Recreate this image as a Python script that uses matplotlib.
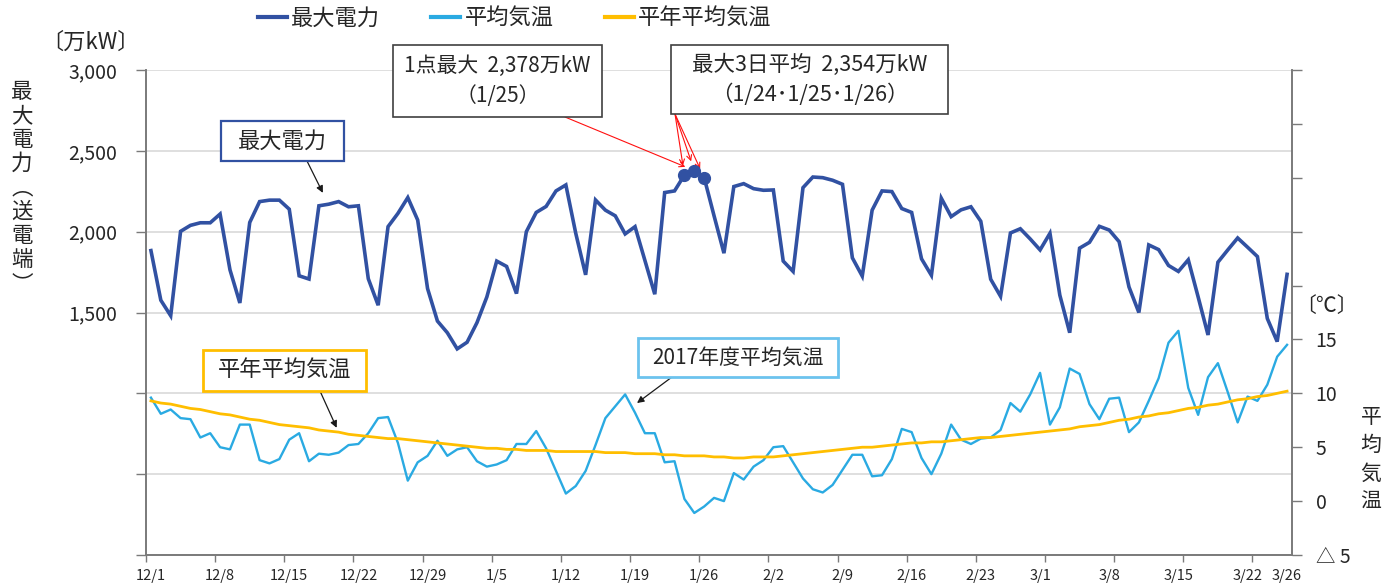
import matplotlib.pyplot as plt
import pandas as pd
from matplotlib.lines import Line2D
from matplotlib.patches import Rectangle

plt.rcParams['font.family'] = ['Noto Sans CJK JP', 'DejaVu Sans']
plt.rcParams['text.color'] = '#262626'

# ---- data ----
dates = pd.date_range('2017-12-01', '2018-03-26', freq='D')
days = [f'{d.month}/{d.day}' for d in dates]

max_power = [1883, 1576, 1480, 2002, 2039, 2055, 2055, 2109, 1764, 1559,
             2057, 2186, 2195, 2195, 2139, 1727, 1707, 2160, 2170, 2186,
             2154, 2160, 1709, 1545, 2031, 2113, 2211, 2072, 1648, 1447,
             1375, 1275, 1316, 1437, 1596, 1818, 1785, 1617, 2000, 2119,
             2156, 2252, 2289, 1990, 1733, 2196, 2133, 2098, 1986, 2031,
             1822, 1613, 2242, 2252, 2350, 2378, 2334, 2098, 1867, 2279,
             2297, 2266, 2256, 2258, 1818, 1754, 2272, 2338, 2334, 2318,
             2293, 1838, 1725, 2133, 2252, 2248, 2143, 2119, 1832, 1730,
             2207, 2093, 2135, 2154, 2064, 1706, 1600, 1992, 2018, 1955,
             1887, 1990, 1607, 1375, 1898, 1934, 2033, 2010, 1938, 1658,
             1500, 1918, 1889, 1791, 1754, 1826, 1596, 1361, 1811, 1887,
             1961, 1904, 1846, 1463, 1320, 1736]

avg_temp = [9.6, 8.1, 8.5, 7.7, 7.6, 5.9, 6.3, 5.0, 4.8, 7.1,
            7.1, 3.8, 3.5, 3.9, 5.7, 6.3, 3.7, 4.4, 4.3, 4.5,
            5.2, 5.3, 6.3, 7.7, 7.8, 5.4, 1.9, 3.6, 4.2, 5.6,
            4.2, 4.8, 5.0, 3.7, 3.2, 3.4, 3.8, 5.3, 5.3, 6.5,
            4.9, 2.8, 0.7, 1.4, 2.8, 5.2, 7.7, 8.8, 9.9, 8.2,
            6.3, 6.3, 3.6, 3.7, 0.2, -1.1, -0.5, 0.3, 0.0, 2.6,
            2.0, 3.2, 3.8, 5.0, 5.1, 3.6, 2.1, 1.1, 0.8, 1.5,
            2.9, 4.3, 4.3, 2.3, 2.4, 3.9, 6.7, 6.4, 4.0, 2.5,
            4.4, 7.1, 5.7, 5.3, 5.8, 5.9, 6.6, 9.1, 8.3, 9.9,
            11.9, 7.1, 8.7, 12.3, 11.8, 9.0, 7.6, 9.5, 9.6, 6.4,
            7.3, 9.3, 11.4, 14.7, 15.8, 10.5, 8.0, 11.5, 12.8, 10.1,
            7.3, 9.7, 9.3, 10.8, 13.4, 14.5]

normal_temp = [9.3, 9.1, 9.0, 8.8, 8.6, 8.5, 8.3, 8.1, 8.0, 7.8,
               7.6, 7.5, 7.3, 7.1, 7.0, 6.9, 6.8, 6.6, 6.5, 6.4,
               6.2, 6.1, 6.0, 5.9, 5.8, 5.8, 5.7, 5.6, 5.5, 5.4,
               5.3, 5.2, 5.1, 5.0, 4.9, 4.9, 4.8, 4.8, 4.7, 4.7,
               4.7, 4.6, 4.6, 4.6, 4.6, 4.6, 4.5, 4.5, 4.5, 4.4,
               4.4, 4.4, 4.3, 4.3, 4.2, 4.2, 4.2, 4.1, 4.1, 4.0,
               4.0, 4.1, 4.1, 4.1, 4.2, 4.3, 4.4, 4.5, 4.6, 4.7,
               4.8, 4.9, 5.0, 5.0, 5.1, 5.2, 5.3, 5.4, 5.4, 5.5,
               5.5, 5.6, 5.7, 5.8, 5.9, 5.9, 6.0, 6.1, 6.2, 6.3,
               6.4, 6.5, 6.6, 6.7, 6.9, 7.0, 7.1, 7.3, 7.5, 7.6,
               7.8, 7.9, 8.1, 8.2, 8.4, 8.6, 8.7, 8.9, 9.0, 9.2,
               9.4, 9.5, 9.7, 9.8, 10.0, 10.2]

tick_labels = ['12/1', '12/8', '12/15', '12/22', '12/29', '1/5', '1/12', '1/19',
               '1/26', '2/2', '2/9', '2/16', '2/23', '3/1', '3/8', '3/15', '3/22', '3/26']
peak_days = ['1/24', '1/25', '1/26']

BLUE = '#3151A2'
LBLUE = '#2AAAE2'
GOLD = '#FFBE00'
SPINE = '#7A7A7A'
GRID = '#D9D9D9'

W, H = 1397, 583


def fx(px):
    return px / W


def fy(py):
    return 1 - py / H


fig = plt.figure(figsize=(W / 100, H / 100), dpi=100)
ax = fig.add_axes([fx(146), fy(555), (1292 - 146) / W, (555 - 70) / H])
ax2 = ax.twinx()

x = list(range(len(days)))
ax.plot(x, max_power, color=BLUE, lw=2.6, zorder=3, solid_joinstyle='miter')
pk = [days.index(d) for d in peak_days]
ax.plot(pk, [max_power[i] for i in pk], 'o', color=BLUE, ms=8.5, zorder=4)

ax2.plot(x, avg_temp, color=LBLUE, lw=1.7)
ax2.plot(x, normal_temp, color=GOLD, lw=2.0)

# axes
ax.set_xlim(-0.5, len(days) - 0.5)
ax.set_ylim(0, 3000)
ax.set_yticks(range(0, 3001, 500))
ax.set_yticklabels([f'{v:,}' if v >= 1500 else '' for v in range(0, 3001, 500)])
ax.yaxis.grid(True, color=GRID, lw=1.2)
ax.set_axisbelow(True)
ax.tick_params(axis='y', length=7, width=1, color=SPINE, pad=14, labelsize=14,
               labelcolor='#262626')

ax.set_xticks([days.index(t) for t in tick_labels])
ax.set_xticklabels(tick_labels)
ax.set_xticks([-0.5 + k for k in range(0, 113, 7)], minor=True)
ax.tick_params(axis='x', which='major', length=0, pad=10, labelsize=10.5,
               labelcolor='#262626')
ax.tick_params(axis='x', which='minor', length=5, width=1, color=SPINE)

ax2.set_ylim(-5, 40)
ax2.set_yticks(range(-5, 41, 5))
ax2.set_yticklabels(['△ 5' if v < 0 else (str(v) if v <= 15 else '') for v in range(-5, 41, 5)])
ax2.tick_params(axis='y', length=7, width=1, color=SPINE, pad=10, labelsize=14,
                labelcolor='#262626')

for a in (ax, ax2):
    a.spines['top'].set_visible(False)
    for s in ('left', 'right', 'bottom'):
        a.spines[s].set_color(SPINE)
        a.spines[s].set_linewidth(1.2)

# axis titles
fig.text(fx(90), fy(42), '〔万kW〕', ha='center', va='center', fontsize=16)
fig.text(fx(1326), fy(306), '〔℃〕', ha='center', va='center', fontsize=15)
left_label = ['最', '大', '電', '力', '︵', '送', '電', '端', '︶']
for k, ch in enumerate(left_label):
    fig.text(fx(22), fy(92 + k * 24), ch, ha='center', va='center', fontsize=15.5)
for k, ch in enumerate('平均気温'):
    fig.text(fx(1371), fy(417 + k * 28.3), ch, ha='center', va='center', fontsize=15)

# legend
handles = [Line2D([], [], color=c, lw=3) for c in (BLUE, LBLUE, GOLD)]
fig.legend(handles, ['最大電力', '平均気温', '平年平均気温'], loc='center left',
           bbox_to_anchor=(fx(258), fy(18)), ncol=3, frameon=False, fontsize=16,
           handlelength=1.3, handletextpad=0.2, columnspacing=2.3,
           borderpad=0, borderaxespad=0)


# annotation boxes
def box(x0, y0, x1, y1, ec, lw, text, size):
    fig.add_artist(Rectangle((fx(x0), fy(y1)), (x1 - x0) / W, (y1 - y0) / H,
                             transform=fig.transFigure, fc='white', ec=ec, lw=lw, zorder=5))
    fig.text(fx((x0 + x1) / 2), fy((y0 + y1) / 2), text, ha='center', va='center',
             fontsize=size, linespacing=1.45, zorder=6)


box(221, 121, 344, 161, BLUE, 1.6, '最大電力', 16)
box(393, 45, 602, 117, '#404040', 1.2, '1点最大  2,378万kW\n（1/25）', 15)
box(671, 45, 948, 114, '#404040', 1.2, '最大3日平均  2,354万kW\n（1/24･1/25･1/26）', 15.5)
box(203, 350, 366, 391, GOLD, 2.0, '平年平均気温', 16)
box(638, 338, 838, 377, '#6CC3EE', 2.0, '2017年度平均気温', 15)

black = dict(arrowstyle='-|>', color='#1a1a1a', lw=0.9, mutation_scale=10,
             shrinkA=0, shrinkB=0)
ax.annotate('', xy=(17.4, 2240), xytext=(fx(307), fy(161)),
            textcoords='figure fraction', arrowprops=black)
ax2.annotate('', xy=(18.8, 6.8), xytext=(fx(320), fy(391)),
             textcoords='figure fraction', arrowprops=black)
ax2.annotate('', xy=(49.2, 9.1), xytext=(fx(672), fy(377)),
             textcoords='figure fraction', arrowprops=black)

red = dict(arrowstyle='->', color='#FF1010', lw=0.8, mutation_scale=9,
           shrinkA=0, shrinkB=7)
i25 = days.index('1/25')
ax.annotate('', xy=(i25, max_power[i25]), xytext=(fx(565), fy(117)),
            textcoords='figure fraction', arrowprops=red)
for i in pk:
    ax.annotate('', xy=(i, max_power[i]), xytext=(fx(675), fy(114)),
                textcoords='figure fraction', arrowprops=red)

fig.savefig('out.png', dpi=100)
